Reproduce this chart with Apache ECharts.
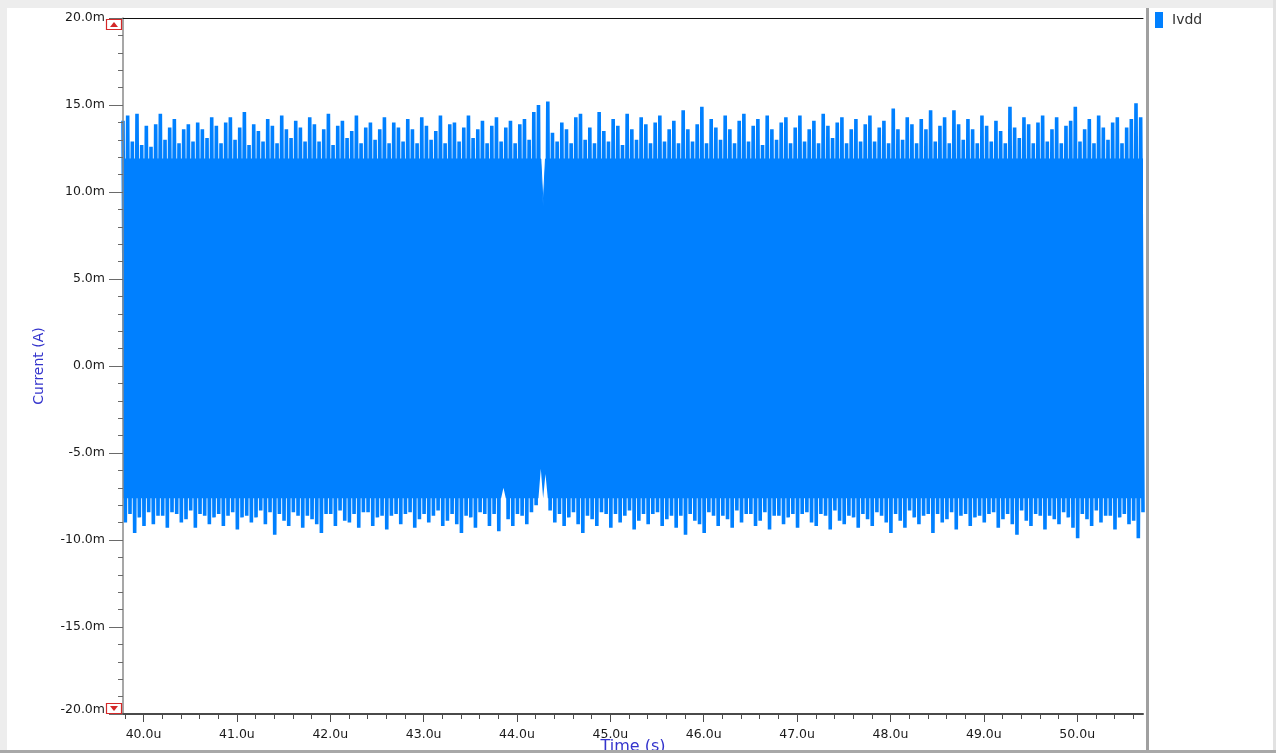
<!DOCTYPE html>
<html><head><meta charset="utf-8">
<script src="https://cdn.jsdelivr.net/npm/echarts@6/dist/echarts.min.js"></script>
<style>html,body{margin:0;padding:0;background:#fff}#c{width:1276px;height:753px}</style>
</head><body><div id="c"></div>
<script>
// ---- data (mA vs µs) ----
const seriesName = 'Ivdd';
const timeStart = 39.78;   // µs, first sample
const period = 0.05;       // µs between successive peaks
// per-period maximum (mA)
const peakHigh = [
 14.1,14.4,12.9,14.5,12.7,13.8,12.6,13.9,14.5,13.0,13.7,14.2,12.8,13.6,13.9,12.9,14.0,13.6,13.1,14.3,
 13.8,12.8,14.0,14.3,13.0,13.7,14.6,12.7,13.9,13.5,12.9,14.2,13.8,12.8,14.4,13.6,13.1,14.1,13.7,12.9,
 14.3,13.9,12.9,13.6,14.5,12.7,13.8,14.1,13.1,13.5,14.4,12.8,13.7,14.0,13.0,13.6,14.3,12.8,14.0,13.7,
 12.9,14.2,13.6,12.8,14.3,13.8,13.0,13.5,14.4,12.8,13.9,14.0,12.9,13.7,14.4,13.1,13.6,14.1,12.8,13.8,
 14.3,12.9,13.7,14.1,12.8,13.9,14.2,13.0,14.6,15.0,9.2,15.2,13.4,12.9,14.0,13.6,12.8,14.3,14.5,13.0,
 13.7,12.8,14.6,13.5,12.9,14.2,13.8,12.7,14.5,13.6,13.0,14.3,13.9,12.8,14.0,14.4,12.9,13.6,14.1,12.8,
 14.7,13.6,12.9,13.9,14.9,12.8,14.2,13.7,13.0,14.4,13.6,12.8,14.1,14.5,12.9,13.8,14.2,12.7,14.4,13.6,
 13.0,14.0,14.3,12.8,13.7,14.4,12.9,13.6,14.1,12.8,14.5,13.8,13.1,14.0,14.3,12.8,13.6,14.2,12.9,13.9,
 14.4,12.9,13.7,14.1,12.8,14.8,13.6,13.0,14.3,13.9,12.8,14.2,13.6,14.7,12.9,13.8,14.3,12.8,14.7,13.9,
 13.0,14.2,13.6,12.8,14.4,13.8,12.9,14.1,13.5,12.8,14.9,13.7,13.1,14.3,13.9,12.8,14.0,14.4,12.9,13.6,
 14.3,12.8,13.8,14.1,14.9,12.9,13.6,14.2,12.8,14.4,13.7,13.0,14.0,14.3,12.8,13.7,14.2,15.1,14.3
];
// per-period minimum (mA)
const peakLow = [
 -9.0,-8.5,-9.6,-8.7,-9.2,-8.4,-9.1,-8.6,-8.6,-9.3,-8.4,-8.5,-9.0,-8.8,-8.3,-9.3,-8.5,-8.6,-9.1,-8.7,
 -8.5,-9.2,-8.6,-8.4,-9.4,-8.7,-8.6,-9.0,-8.7,-8.3,-9.1,-8.4,-9.7,-8.5,-8.9,-9.2,-8.4,-8.6,-9.3,-8.6,
 -8.8,-9.1,-9.6,-8.5,-8.5,-9.2,-8.3,-8.9,-9.0,-8.5,-9.3,-8.4,-8.4,-9.2,-8.7,-8.6,-9.4,-8.6,-8.5,-9.1,
 -8.5,-8.4,-9.3,-8.8,-8.5,-9.0,-8.6,-8.3,-9.2,-8.9,-8.5,-9.1,-9.6,-8.6,-8.7,-9.3,-8.4,-8.5,-9.2,-8.5,
 -9.5,-7.0,-8.8,-9.2,-8.5,-8.6,-9.1,-8.4,-8.0,-5.9,-6.2,-8.3,-9.0,-8.5,-9.2,-8.7,-8.4,-9.1,-9.6,-8.6,
 -8.8,-9.2,-8.4,-8.5,-9.3,-8.5,-9.0,-8.6,-8.3,-9.4,-8.9,-8.5,-9.1,-8.5,-8.4,-9.2,-8.8,-8.6,-9.3,-8.6,
 -9.7,-8.5,-8.9,-9.1,-9.6,-8.4,-8.6,-9.2,-8.6,-8.8,-9.3,-8.3,-9.0,-8.5,-8.5,-9.2,-8.9,-8.4,-9.4,-8.6,
 -8.6,-9.1,-8.7,-8.5,-9.3,-8.5,-8.4,-9.0,-9.2,-8.5,-8.6,-9.4,-8.3,-8.9,-9.1,-8.6,-8.7,-9.3,-8.5,-8.8,
 -9.2,-8.4,-8.6,-9.0,-9.6,-8.5,-8.9,-9.3,-8.3,-8.7,-9.1,-8.6,-8.5,-9.6,-8.5,-9.0,-8.8,-8.4,-9.4,-8.6,
 -8.5,-9.2,-8.7,-8.6,-9.0,-8.5,-8.4,-9.3,-8.8,-8.5,-9.1,-9.7,-8.3,-8.9,-9.2,-8.5,-8.6,-9.4,-8.6,-8.8,
 -9.1,-8.4,-8.7,-9.3,-9.9,-8.5,-8.8,-9.2,-8.3,-9.0,-8.6,-8.6,-9.4,-8.7,-8.5,-9.1,-8.9,-9.9,-8.4
];
// level of the solid (always-covered) band of the waveform
const bandTop = 11.9;
const bandBottom = -7.6;
const xMajorTicks = [40,41,42,43,44,45,46,47,48,49,50];
const xMin = 39.78, xMax = 50.705;
const yMin = -20, yMax = 20, yStep = 5;

// ---- build ----
const waveform = [], bandUpper = [], bandLower = [];
for (let i = 0; i < peakHigh.length; i++) {
  const t = timeStart + i * period;
  const t2 = t + period / 2;
  waveform.push([t, peakHigh[i]]);
  waveform.push([t2, peakLow[i]]);
  bandUpper.push([t, Math.min(peakHigh[i], bandTop)]);
  bandUpper.push([t2, bandTop]);
  bandLower.push([t, bandBottom]);
  bandLower.push([t2, Math.max(peakLow[i], bandBottom)]);
}
const xMinorTicks = [];
for (let k = 0; k < xMajorTicks.length; k++) {
  for (let j = -4; j <= 4; j++) {
    if (j === 0) continue;
    const v = Math.round((xMajorTicks[k] + j * 0.2) * 10) / 10;
    if (v > xMin && v < xMax && xMinorTicks.indexOf(v) < 0 && xMajorTicks.indexOf(v) < 0) xMinorTicks.push(v);
  }
}
xMinorTicks.sort((a, b) => a - b);

const FONT = 'DejaVu Sans';
const BLUE = '#0080ff';
const chart = echarts.init(document.getElementById('c'), null, {renderer: 'canvas'});
chart.setOption({
  animation: false,
  backgroundColor: '#ffffff',
  grid: {left: 123, right: 133, top: 18, bottom: 39, show: false, containLabel: false, outerBoundsMode: 'none'},
  legend: {
    left: 1155, top: 12, orient: 'vertical', padding: 0,
    itemWidth: 8, itemHeight: 16, itemGap: 6,
    textStyle: {fontFamily: FONT, fontSize: 14, color: '#333', padding: [0, 0, 0, 4]},
    data: [{name: seriesName, icon: 'rect'}],
    selectedMode: false
  },
  xAxis: [
    {
      type: 'value', min: xMin, max: xMax, position: 'bottom', z: 10,
      name: 'Time (s)', nameLocation: 'middle', nameGap: 25, nameMoveOverlap: false,
      nameTextStyle: {fontFamily: FONT, fontSize: 16, color: '#3434cc'},
      axisLine: {show: true, onZero: false, lineStyle: {color: '#4a4a4a', width: 2}},
      axisTick: {show: true, length: 8, lineStyle: {color: '#4a4a4a'}, customValues: xMajorTicks},
      axisLabel: {show: true, customValues: xMajorTicks, margin: 14, fontFamily: FONT, fontSize: 12.5, color: '#1a1a1a',
        formatter: v => v.toFixed(1) + 'u'},
      splitLine: {show: false}
    },
    {
      type: 'value', min: xMin, max: xMax, position: 'bottom', z: 10,
      axisLine: {show: false, onZero: false},
      axisTick: {show: true, length: 5, lineStyle: {color: '#4a4a4a'}, customValues: xMinorTicks},
      axisLabel: {show: false},
      splitLine: {show: false}
    },
    {
      type: 'value', min: xMin, max: xMax, position: 'top', z: 10,
      axisLine: {show: true, onZero: false, lineStyle: {color: '#111', width: 1}},
      axisTick: {show: false}, axisLabel: {show: false}, splitLine: {show: false}
    }
  ],
  yAxis: {
    type: 'value', min: yMin, max: yMax, interval: yStep, z: 10,
    name: 'Current (A)', nameLocation: 'middle', nameGap: 77, nameRotate: 90, nameMoveOverlap: false,
    nameTextStyle: {fontFamily: FONT, fontSize: 14, color: '#3434cc'},
    axisLine: {show: true, onZero: false, lineStyle: {color: '#8a8a8a', width: 1.5}},
    axisTick: {show: true, length: 14, lineStyle: {color: '#6a6a6a'}},
    minorTick: {show: true, splitNumber: 5, length: 5, lineStyle: {color: '#6a6a6a'}},
    axisLabel: {margin: 18, fontFamily: FONT, fontSize: 12.5, color: '#1a1a1a',
      formatter: v => v === yMin ? '{lo|' + v.toFixed(1) + 'm}' : v.toFixed(1) + 'm',
      rich: {lo: {fontFamily: FONT, fontSize: 12.5, color: '#1a1a1a', padding: [0, 0, 9, 0]}}},
    splitLine: {show: false}
  },
  series: [
    {
      name: 'band-upper', type: 'line', data: bandUpper, z: 2,
      showSymbol: false, symbol: 'none', color: BLUE,
      lineStyle: {color: BLUE, width: 1},
      areaStyle: {color: BLUE, opacity: 1, origin: 'start'}, silent: true
    },
    {
      name: 'band-lower', type: 'line', data: bandLower, z: 3,
      showSymbol: false, symbol: 'none', color: '#ffffff',
      lineStyle: {color: '#ffffff', width: 0, opacity: 0},
      areaStyle: {color: '#ffffff', opacity: 1, origin: 'start'}, silent: true
    },
    {
      name: seriesName, type: 'line', data: waveform, z: 4,
      showSymbol: false, symbol: 'none',
      color: BLUE,
      lineStyle: {color: BLUE, width: 3.6, join: 'bevel'},
      silent: true, clip: true
    }
  ],
  graphic: [
    {type: 'rect', shape: {x: 0, y: 0, width: 1276, height: 8}, style: {fill: '#ededed'}, silent: true},
    {type: 'rect', shape: {x: 0, y: 0, width: 7, height: 753}, style: {fill: '#ededed'}, silent: true},
    {type: 'rect', shape: {x: 1273, y: 0, width: 3, height: 753}, style: {fill: '#e2e2e2'}, silent: true},
    {type: 'rect', shape: {x: 0, y: 750, width: 1276, height: 3}, style: {fill: '#a8a8a8'}, z: 100, silent: true},
    {type: 'rect', shape: {x: 1146, y: 8, width: 3, height: 742}, style: {fill: '#a0a0a0'}, silent: true},
    {type: 'rect', shape: {x: 106.5, y: 19.5, width: 15, height: 10}, style: {fill: '#fff', stroke: '#d42828', lineWidth: 1.2}, z: 100, silent: true},
    {type: 'polygon', shape: {points: [[110, 27], [118, 27], [114, 22]]}, style: {fill: '#d42828'}, z: 101, silent: true},
    {type: 'rect', shape: {x: 106.5, y: 703.5, width: 15, height: 10}, style: {fill: '#fff', stroke: '#d42828', lineWidth: 1.2}, z: 100, silent: true},
    {type: 'polygon', shape: {points: [[110, 706], [118, 706], [114, 711]]}, style: {fill: '#d42828'}, z: 101, silent: true}
  ]
});
</script></body></html>
